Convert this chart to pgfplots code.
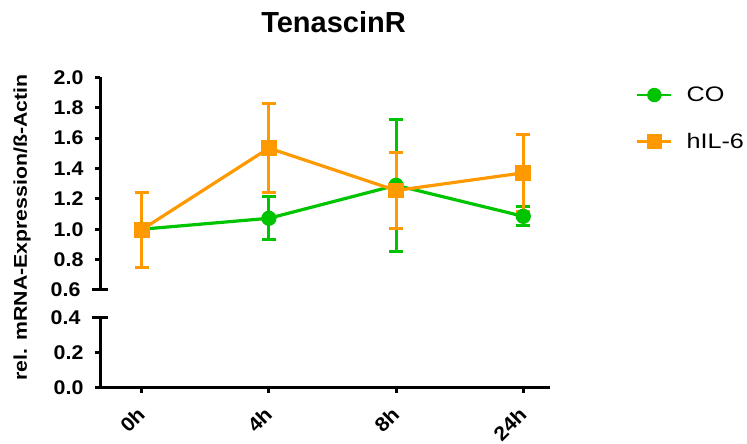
\documentclass[border=0pt]{standalone}
\usepackage{pgfplots}
\pgfplotsset{compat=1.18}
\usepackage{pgfplotstable}
\usepackage{fontspec}
\setmainfont{Liberation Sans}
\newfontfamily\tickfont{Liberation Sans}[FakeStretch=1.08]
\newfontfamily\labfont{Liberation Sans}[FakeStretch=1.2]
\newfontfamily\ylabfont{Liberation Sans}[FakeStretch=1.15]
\definecolor{cogreen}{RGB}{0,196,0}
\definecolor{ilorange}{RGB}{255,153,0}

\pgfplotstableread{
x y e
0 1.000 0.0
1 1.072 0.142
2 1.289 0.434
3 1.085 0.062
}\codata
\pgfplotstableread{
x y e
0 0.997 0.246
1 1.534 0.294
2 1.255 0.249
3 1.371 0.253
}\ildata

\pgfplotsset{
  brk/.style={
    scale only axis, width=450pt,
    xmin=-0.328, xmax=3.21,
    axis line style={line width=3pt},
    every tick/.style={line width=3pt, black},
    major tick length=5pt,
    tick align=outside,
    /pgf/number format/assume math mode=true,
    /pgf/number format/fixed,
    /pgf/number format/fixed zerofill,
    /pgf/number format/precision=1,
    tick label style={font=\tickfont\bfseries\fontsize{19.8}{22}\selectfont},
    every y tick label/.append style={xshift=-8pt},
    extra y tick style={major tick length=16pt, tick align=center},
    clip=false,
  }
}

\begin{document}
\begin{tikzpicture}
\useasboundingbox (0,0) rectangle (747pt,444pt);

\begin{axis}[brk, at={(100pt,154pt)}, anchor=south west, height=212.7pt,
  ymin=0.6, ymax=2.0, axis x line=none, axis y line*=left,
  ytick={0.8,1.0,1.2,1.4,1.6,1.8,2.0}, extra y ticks={0.6},
  title={TenascinR},
  title style={font=\bfseries\fontsize{29}{30}\selectfont, at={(axis description cs:0.519,1)}, anchor=base, yshift=39pt},
  legend style={draw=none, fill=none, at={(axis description cs:1.191,0.965)}, anchor=north west,
    font=\labfont\fontsize{21}{24}\selectfont, row sep=26pt, column sep=12pt, inner sep=0pt},
  legend cell align=left,
  legend image code/.code={\draw[mark repeat=2, mark phase=2, line width=2.4pt] plot coordinates {(0pt,0pt) (17pt,0pt) (34pt,0pt)};},
]
\addplot[cogreen, line width=3.2pt, mark=*, mark size=6pt,
  error bars/.cd, y dir=both, y explicit,
  error bar style={line width=3pt},
  error mark options={rotate=90, mark size=7pt, line width=3pt}]
  table[x=x, y=y, y error=e]{\codata};
\addlegendentry{CO}
\addplot[ilorange, line width=3.2pt, mark=square*, mark size=6.3pt,
  error bars/.cd, y dir=both, y explicit,
  error bar style={line width=3pt},
  error mark options={rotate=90, mark size=7pt, line width=3pt}]
  table[x=x, y=y, y error=e]{\ildata};
\addlegendentry{hIL-6}
\end{axis}

\begin{axis}[brk, at={(100pt,56.3pt)}, anchor=south west, height=70pt,
  ymin=0, ymax=0.4, axis x line*=bottom, axis y line*=left,
  ytick={0,0.2}, extra y ticks={0.4},
  xtick={0,1,2,3}, xticklabels={0h,4h,8h,24h},
  xticklabel style={xshift=2pt, yshift=-16pt, rotate=45, anchor=east},
]
\end{axis}

\node[rotate=90, font=\ylabfont\bfseries\fontsize{18.5}{20}\selectfont] at (22pt,216.5pt) {rel. mRNA-Expression/ß-Actin};
\end{tikzpicture}
\end{document}
